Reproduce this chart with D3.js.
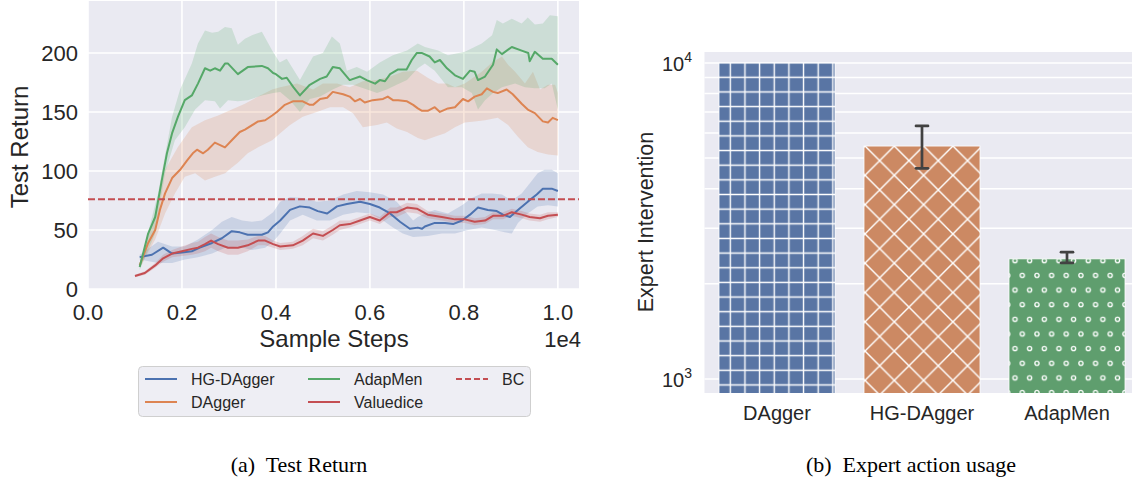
<!DOCTYPE html>
<html><head><meta charset="utf-8">
<script src="https://cdn.jsdelivr.net/npm/d3@7"></script>
<style>
body{margin:0;background:#fff}
svg{display:block}
text{font-family:"Liberation Sans",Arial,sans-serif;fill:#262626}
.cap{font-family:"Liberation Serif","Times New Roman",serif;fill:#000}
</style>
</head><body><svg id="c" width="1132" height="480"></svg>
<script>
// ---------- (a) Test Return ----------
const xTicks = [0, 2000, 4000, 6000, 8000, 10000];
const xTickLabels = ["0.0", "0.2", "0.4", "0.6", "0.8", "1.0"];
const yTicks = [0, 50, 100, 150, 200];
const bcValue = 76;

const adapMenX = [1100,1280,1430,1570,1680,1790,1915,2060,2210,2340,2490,2600,2700,2810,2915,2980,3190,3400,3700,3830,3940,4000,4130,4230,4370,4510,4720,4940,5080,5210,5360,5570,5790,5930,6110,6210,6320,6430,6600,6780,6890,7000,7100,7270,7380,7490,7640,7810,7980,8130,8230,8300,8450,8620,8700,8810,9020,9230,9370,9400,9510,9680,9870,10000];
const adapMenY = [18.6,47,61,92,115,132,146,160,164,174,187,185,187,185,191,191,182,188,189,187,183,182,178,179,171,164,173,178,180,188,187,177,180,177,174,177,176,182,186,186,194,200,200,197,192,194,187,181,178,185,184,177,180,190,203,199,205,202,200,193,201,195,195,190];
const adapMenHiX = [1100,1490,1790,1960,2210,2340,2490,2640,2770,2915,3060,3190,3340,3490,3700,3920,4080,4230,4510,4790,5000,5190,5360,5510,5720,5940,6210,6490,6790,7020,7170,7450,7660,8020,8380,8600,8700,8830,9020,9230,9360,9510,9680,9830,10000];
const adapMenHi = [20,81,146,169,191,208,219,217,218,222,221,207,212,215,218,202,192,195,177,197,200,214,208,185,188,184,192,198,202,208,205,202,198,201,208,215,228,225,229,225,230,224,225,232,231];
const adapMenLoX = [1100,1430,1640,1850,2060,2280,2490,2700,2810,2980,3190,3400,3700,3940,4090,4300,4510,4720,4940,5210,5430,5640,5940,6150,6360,6570,6790,7020,7170,7380,7660,7960,8170,8300,8450,8620,8810,9090,9300,9510,9720,9870,10000];
const adapMenLo = [16,47,98,126,137,152,160,159,153,160,159,160,164,166,167,160,150,161,163,169,173,173,169,166,169,173,177,187,191,185,171,171,166,152,160,166,171,174,171,170,170,174,152];

const daggerX = [1100,1280,1430,1530,1640,1790,1960,2110,2230,2320,2450,2550,2700,2915,3060,3230,3340,3620,3770,3920,4020,4190,4360,4570,4720,4790,4940,5090,5210,5430,5570,5680,5790,5890,6060,6280,6380,6490,6600,6790,6920,7020,7110,7230,7380,7490,7660,7810,7980,8090,8230,8380,8490,8620,8720,8910,9040,9230,9360,9510,9680,9790,9890,10000];
const daggerY = [20,39,50,67,81,94,101,109,115,118,115,118,124,120,126,133,135,142,143,147,150,156,159,159,156,156,161,162,167,165,163,159,161,158,160,161,163,160,160,159,156,153,151,151,154,150,153,154,161,159,163,165,170,167,166,169,165,157,152,149,142,141,145,143];
const daggerHiX = [1100,1430,1640,1910,2210,2490,2770,3060,3340,3620,3920,4090,4450,4790,5000,5300,5570,5850,6150,6430,6700,7000,7230,7450,7640,7810,8020,8380,8600,8810,8940,9090,9300,9470,9620,9790,9940,10000];
const daggerHi = [22,64,101,120,137,143,147,152,157,163,169,171,174,169,174,174,171,176,177,180,184,185,179,174,174,171,174,184,192,197,190,184,174,184,169,173,173,166];
const daggerLoX = [1100,1430,1640,1850,2060,2280,2490,2700,2920,3060,3190,3400,3620,3920,4090,4300,4570,4870,5150,5430,5640,5850,6150,6360,6570,6790,7020,7170,7380,7600,7810,8020,8230,8450,8720,8940,9150,9360,9570,9790,10000];
const daggerLo = [18,42,64,81,95,98,92,95,98,103,107,115,120,126,132,139,146,150,154,154,149,137,139,141,136,133,128,126,129,132,137,141,142,143,145,139,129,120,116,114,113];

const hgX = [1100,1360,1600,1790,2000,2210,2380,2640,2850,3060,3230,3400,3700,3830,3940,4090,4300,4510,4720,4890,5090,5300,5510,5790,6000,6210,6430,6640,6850,7020,7110,7170,7380,7600,7770,7960,8130,8300,8510,8700,8830,8980,9150,9360,9550,9680,9870,10000];
const hgY = [27,29,35,30,31,32,35,39,43,49,48,46,46,48,53,58,67,70,69,66,64,70,72,74,72,69,64,57,51,52,51,53,56,56,55,58,63,69,67,66,63,61,67,74,80,85,85,83];
const hgHiX = [1100,1490,1790,2060,2340,2640,2850,3060,3280,3490,3700,3940,4090,4300,4570,4870,5150,5430,5720,6000,6280,6570,6790,6920,7020,7170,7380,7660,7960,8170,8380,8600,8810,9020,9230,9450,9570,9720,9870,10000];
const hgHi = [29,40,36,36,42,50,57,61,58,57,58,65,74,78,77,74,75,80,83,82,80,74,64,58,61,64,67,64,71,77,81,81,80,75,81,92,98,101,101,98];
const hgLoX = [1100,1490,1790,2060,2340,2640,2920,3190,3490,3770,3940,4090,4300,4570,4870,5150,5430,5720,6000,6280,6490,6700,6920,7230,7530,7810,8090,8380,8660,8870,9020,9150,9360,9570,9790,10000];
const hgLo = [25,22,22,25,27,30,35,36,33,35,40,47,58,63,58,58,63,65,64,58,52,47,44,45,47,47,50,52,50,48,47,56,64,70,71,70];

const vdX = [1000,1210,1430,1600,1790,2000,2210,2340,2490,2620,2770,2980,3190,3400,3620,3770,3940,4090,4360,4570,4790,5000,5210,5360,5570,5790,6000,6210,6430,6570,6790,7000,7230,7530,7810,8020,8230,8450,8620,8830,9020,9230,9400,9620,9790,10000];
const vdY = [11,13.5,20,26,30,32,34,35,38,41,38,35,35,37,41,41,38,36,37,41,47,45,50,54,55,58,61,58,65,65,69,68,63,61,59,59,57,58,62,62,65,63,61,60,62,63];
const vdSpread = [1,1.5,2,3,3,4,5,5,6,6,6,6,6,5,4,4,3,3,3,4,4,4,4,4,3,3,3,3,4,4,4,4,3,3,3,3,3,3,3,3,3,3,3,3,3,2];

// ---------- (b) Expert action usage ----------
const barCats = ["DAgger", "HG-DAgger", "AdapMen"];
const barVals = [10000, 5460, 2400];
const barErrLo = [null, 4640, 2330];
const barErrHi = [null, 6320, 2520];
const barColors = ["#5975a4", "#cc8963", "#5f9e6e"];
const barHatch = ["plus", "cross", "dots"];

const C = {blue:"#4c72b0", orange:"#dd8452", green:"#55a868", red:"#c44e52"};
const svg = d3.select("#c");
const defs = svg.append("defs");

// ===== left plot =====
const x = d3.scaleLinear().domain([0, 10450]).range([88, 579]);
const y = d3.scaleLinear().domain([0, 244]).range([289, 1]);
const L = svg.append("g");
L.append("rect").attr("x", 88).attr("y", 1).attr("width", 491).attr("height", 288).attr("fill", "#eaeaf2");
L.selectAll(".vg").data(xTicks).join("line").attr("x1", d => x(d)).attr("x2", d => x(d))
  .attr("y1", 1).attr("y2", 289).attr("stroke", "#fff").attr("stroke-width", 1.6);
L.selectAll(".hg").data(yTicks).join("line").attr("y1", d => y(d)).attr("y2", d => y(d))
  .attr("x1", 88).attr("x2", 579).attr("stroke", "#fff").attr("stroke-width", 1.6);

const ln = d3.line().x(d => x(d[0])).y(d => y(d[1]));
function band(hx, hv, lx, lv) {
  const pts = hx.map((s, i) => [s, hv[i]]).concat(lx.map((s, i) => [s, lv[i]]).reverse());
  return ln(pts) + "Z";
}
const bands = [
  [hgHiX, hgHi, hgLoX, hgLo, C.blue],
  [daggerHiX, daggerHi, daggerLoX, daggerLo, C.orange],
  [adapMenHiX, adapMenHi, adapMenLoX, adapMenLo, C.green],
  [vdX, vdY.map((v, i) => v + vdSpread[i]), vdX, vdY.map((v, i) => v - vdSpread[i]), C.red]
];
bands.forEach(b => L.append("path").attr("d", band(b[0], b[1], b[2], b[3])).attr("fill", b[4]).attr("fill-opacity", 0.2));
const lines = [[hgX, hgY, C.blue], [daggerX, daggerY, C.orange], [adapMenX, adapMenY, C.green], [vdX, vdY, C.red]];
lines.forEach(l => L.append("path").attr("d", ln(l[0].map((s, i) => [s, l[1][i]])))
  .attr("fill", "none").attr("stroke", l[2]).attr("stroke-width", 2).attr("stroke-linejoin", "round"));
L.append("line").attr("x1", 88).attr("x2", 579).attr("y1", y(bcValue)).attr("y2", y(bcValue))
  .attr("stroke", C.red).attr("stroke-width", 2).attr("stroke-dasharray", "7,3");

L.selectAll(".xt").data(xTicks).join("text").attr("x", d => x(d)).attr("y", 320)
  .attr("text-anchor", "middle").attr("font-size", 22).text((d, i) => xTickLabels[i]);
L.selectAll(".yt").data(yTicks).join("text").attr("x", 78).attr("y", d => y(d) + 8)
  .attr("text-anchor", "end").attr("font-size", 22).text(d => d);
L.append("text").attr("x", 334).attr("y", 347).attr("text-anchor", "middle").attr("font-size", 24).text("Sample Steps");
L.append("text").attr("x", 581).attr("y", 347).attr("text-anchor", "end").attr("font-size", 22).text("1e4");
L.append("text").attr("transform", "translate(28,147) rotate(-90)").attr("text-anchor", "middle").attr("font-size", 24).text("Test Return");

// legend
const lg = svg.append("g");
lg.append("rect").attr("x", 138.5).attr("y", 366.5).attr("width", 392).attr("height", 50).attr("rx", 4)
  .attr("fill", "#eeeef4").attr("stroke", "#cfcfcf").attr("stroke-width", 1);
const legendItems = [
  ["HG-DAgger", C.blue, 145, 379, false], ["DAgger", C.orange, 145, 402, false],
  ["AdapMen", C.green, 308, 379, false], ["Valuedice", C.red, 308, 402, false],
  ["BC", C.red, 456, 379, true]
];
legendItems.forEach(it => {
  lg.append("line").attr("x1", it[2]).attr("x2", it[2] + 32).attr("y1", it[3]).attr("y2", it[3])
    .attr("stroke", it[1]).attr("stroke-width", 2).attr("stroke-dasharray", it[4] ? "6,3" : null);
  lg.append("text").attr("x", it[2] + 46).attr("y", it[3] + 6).attr("font-size", 16).text(it[0]);
});

// ===== right plot =====
const xb = d3.scaleBand().domain(barCats).range([704.5, 1139.5]).paddingInner(0.2).paddingOuter(0.1);
const yl = d3.scaleLog().domain([903, 10834]).range([393, 52]);
const R = svg.append("g");
R.append("rect").attr("x", 704.5).attr("y", 52).attr("width", 435).attr("height", 341).attr("fill", "#eaeaf2");
const gridVals = [1000,2000,3000,4000,5000,6000,7000,8000,9000,10000];
R.selectAll(".rg").data(gridVals).join("line").attr("x1", 704.5).attr("x2", 1139.5)
  .attr("y1", d => yl(d)).attr("y2", d => yl(d)).attr("stroke", "#fff").attr("stroke-width", 1.5);

// hatch patterns
const p1 = defs.append("pattern").attr("id", "plus").attr("patternUnits", "userSpaceOnUse")
  .attr("x", 730.3 - 7.325).attr("y", 77.3 - 7.325).attr("width", 14.65).attr("height", 14.65);
p1.append("path").attr("d", "M7.325,0V14.65M0,7.325H14.65").attr("stroke", "#fff").attr("stroke-width", 1.4);
const p2 = defs.append("pattern").attr("id", "cross").attr("patternUnits", "userSpaceOnUse")
  .attr("x", 865).attr("y", 146).attr("width", 29.3).attr("height", 29.3);
p2.append("path").attr("d", "M-2,-2L31.3,31.3M31.3,-2L-2,31.3").attr("stroke", "#fff").attr("stroke-width", 1.4);
const p3 = defs.append("pattern").attr("id", "dots").attr("patternUnits", "userSpaceOnUse")
  .attr("x", 1015 - 7.325).attr("y", 260.7 - 7.325).attr("width", 14.65).attr("height", 29.3);
[[7.325, 7.325], [0, 21.975], [14.65, 21.975]].forEach(c =>
  p3.append("circle").attr("cx", c[0]).attr("cy", c[1]).attr("r", 2.1).attr("fill", "none").attr("stroke", "#fff").attr("stroke-width", 1.3));

const clip = defs.append("clipPath").attr("id", "rclip");
clip.append("rect").attr("x", 704.5).attr("y", 52).attr("width", 435).attr("height", 341);
const bars = R.append("g").attr("clip-path", "url(#rclip)");
barCats.forEach((c, i) => {
  const bx = xb(c), bw = xb.bandwidth(), top = yl(barVals[i]);
  bars.append("rect").attr("x", bx).attr("y", top).attr("width", bw).attr("height", 393 - top + 2).attr("fill", barColors[i]);
  bars.append("rect").attr("x", bx).attr("y", top).attr("width", bw).attr("height", 393 - top + 2)
    .attr("fill", "url(#" + barHatch[i] + ")").attr("stroke", "#fff").attr("stroke-width", 0.8);
  if (barErrLo[i] !== null) {
    const cx = bx + bw / 2;
    bars.append("line").attr("x1", cx).attr("x2", cx).attr("y1", yl(barErrHi[i])).attr("y2", yl(barErrLo[i]))
      .attr("stroke", "#424242").attr("stroke-width", 2.7);
    [barErrHi[i], barErrLo[i]].forEach(v => bars.append("line").attr("x1", cx - 6).attr("x2", cx + 6)
      .attr("y1", yl(v)).attr("y2", yl(v)).attr("stroke", "#424242").attr("stroke-width", 2.7).attr("stroke-linecap", "round"));
  }
});
R.selectAll(".ct").data(barCats).join("text").attr("x", d => xb(d) + xb.bandwidth() / 2).attr("y", 420)
  .attr("text-anchor", "middle").attr("font-size", 20).text(d => d);
[[1000, "3"], [10000, "4"]].forEach(t => {
  const tt = R.append("text").attr("x", 692).attr("y", yl(t[0]) + 8).attr("text-anchor", "end").attr("font-size", 20);
  tt.append("tspan").text("10");
  tt.append("tspan").attr("dy", -9).attr("font-size", 14).text(t[1]);
});
R.append("text").attr("transform", "translate(653,222) rotate(-90)").attr("text-anchor", "middle").attr("font-size", 21.5).text("Expert Intervention");

// captions
svg.append("text").attr("class", "cap").attr("x", 299).attr("y", 472).attr("text-anchor", "middle").attr("font-size", 22)
  .attr("xml:space", "preserve").text("(a)  Test Return");
svg.append("text").attr("class", "cap").attr("x", 911).attr("y", 472).attr("text-anchor", "middle").attr("font-size", 22)
  .attr("xml:space", "preserve").text("(b)  Expert action usage");
</script></body></html>
